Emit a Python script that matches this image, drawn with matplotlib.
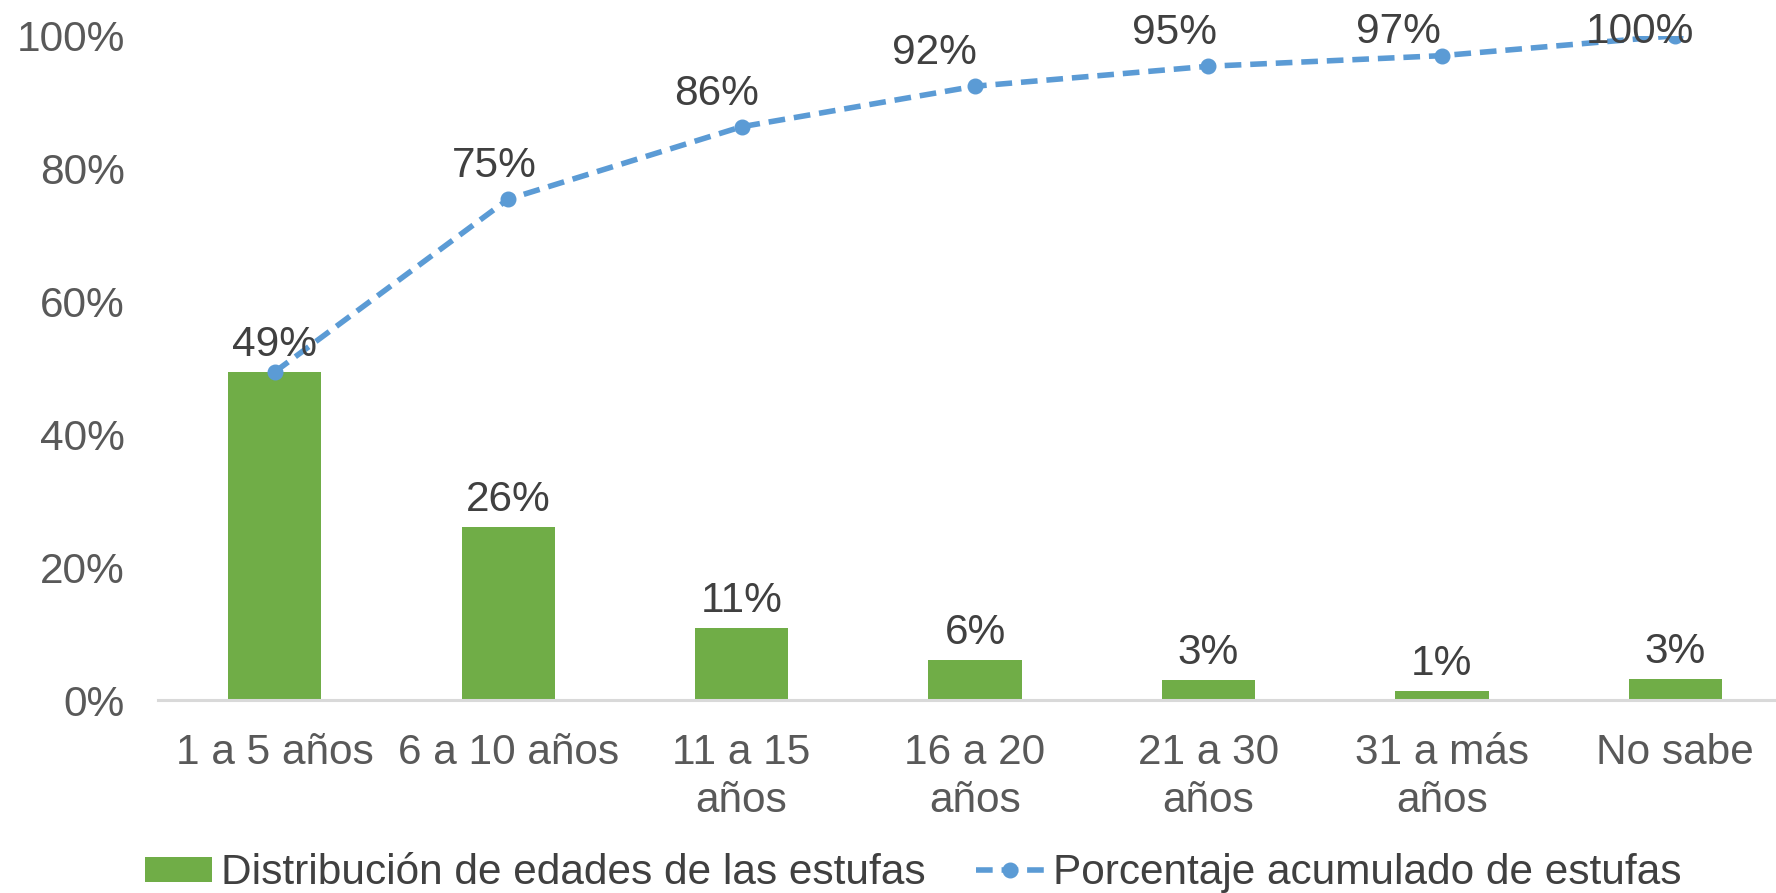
import matplotlib.pyplot as plt
from matplotlib.lines import Line2D
from matplotlib.patches import Patch

plt.rcParams['font.family'] = ['Liberation Sans', 'DejaVu Sans']

# data
categories = ['1 a 5 años', '6 a 10 años', '11 a 15\naños', '16 a 20\naños',
              '21 a 30\naños', '31 a más\naños', 'No sabe']
distribucion = [49.4, 26.1, 10.9, 6.1, 3.1, 1.4, 3.2]
acumulado = [49.4, 75.4, 86.3, 92.4, 95.4, 97.0, 100.0]
bar_name = 'Distribución de edades de las estufas'
line_name = 'Porcentaje acumulado de estufas'

GREEN = '#70AD47'
BLUE = '#5B9BD5'
TXT = '#404040'
TICK = '#595959'
FS = 30.5
LS = (0, (3, 1.6))

fig = plt.figure(figsize=(17.76, 8.93), dpi=100)
ax = fig.add_axes([0.089, 0.216, 0.92, 0.744])

x = list(range(len(categories)))
ax.bar(x, distribucion, width=0.4, color=GREEN, zorder=2)
ax.plot(x, acumulado, color=BLUE, lw=4, ls=LS, marker='o',
        markersize=10.5, zorder=3)

# bar value labels
for xi, v in zip(x, distribucion):
    ax.annotate(f'{v:.0f}%', (xi, v), xytext=(0, 5), textcoords='offset points',
                ha='center', va='bottom', fontsize=FS, color=TXT)

# cumulative labels (first one is hidden behind the bar label)
shift = [0, -14, -25, -41, -34, -43, -35]
for xi, v, dx in zip(x[1:], acumulado[1:], shift[1:]):
    ylab = min(v + 5.0, 100.6)
    ax.text(xi + dx / 233, ylab, f'{v:.0f}%', ha='center', va='center',
            fontsize=FS, color=TXT, zorder=4)

ax.set_xlim(-0.5, 6.5)
ax.set_ylim(0, 100)
ax.set_yticks(range(0, 101, 20))
ax.set_yticklabels([f'{t}%' for t in range(0, 101, 20)])
ax.set_xticks(x)
ax.set_xticklabels(categories, linespacing=1.25)
ax.tick_params(axis='both', length=0, labelsize=FS, labelcolor=TICK)
ax.tick_params(axis='x', pad=24)
ax.tick_params(axis='y', pad=24)
for s in ['top', 'right', 'left']:
    ax.spines[s].set_visible(False)
ax.spines['bottom'].set_color('#D9D9D9')
ax.spines['bottom'].set_linewidth(2.2)
ax.patch.set_alpha(0)

handles = [Patch(facecolor=GREEN, edgecolor='none'),
           Line2D([0], [0], color=BLUE, lw=4, ls=LS, marker='o', markersize=10.5)]
fig.legend(handles, [bar_name, line_name], loc='center', bbox_to_anchor=(0.514, 0.022),
           ncol=2, frameon=False, fontsize=FS, labelcolor=TXT,
           handlelength=1.6, handleheight=0.55, handletextpad=0.2, columnspacing=1.2)

fig.savefig('out.png', dpi=100, facecolor='white')
